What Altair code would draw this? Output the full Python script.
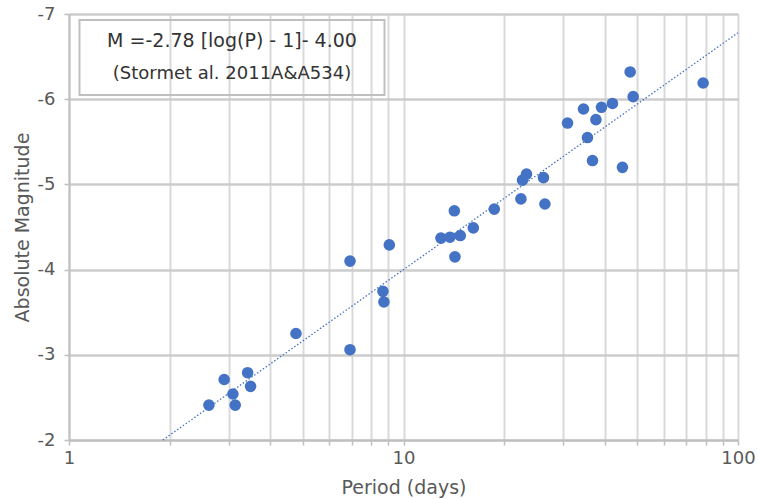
import math

import altair as alt
import pandas as pd

# Cepheid periods (days) and absolute magnitudes
periods = [2.62, 2.91, 3.09, 3.14, 3.42, 3.49, 4.77, 6.92, 6.92, 8.68,
           8.74, 9.07, 12.94, 13.77, 14.78, 16.17, 14.19, 14.25, 18.68, 22.44,
           22.69, 23.32, 26.21, 26.47, 30.93, 34.52, 35.48, 36.73, 37.6, 39.07,
           42.14, 45.14, 47.6, 48.6, 78.66]
magnitudes = [-2.41, -2.71, -2.54, -2.41, -2.79, -2.63, -3.25, -3.06, -4.10, -3.745,
              -3.62, -4.29, -4.37, -4.38, -4.40, -4.49, -4.69, -4.15, -4.71, -4.83,
              -5.05, -5.12, -5.08, -4.77, -5.72, -5.885, -5.55, -5.28, -5.76, -5.905,
              -5.95, -5.20, -6.32, -6.03, -6.19]

# Period-luminosity relation M = slope * (log P - 1) + zero_point
slope = -2.78
zero_point = -4.00
fit_periods = [10 ** (1 + (-2.0 - zero_point) / slope), 100.0]

x_ticks = [1, 2, 3, 4, 5, 6, 7, 8, 9, 10, 20, 30, 40, 50, 60, 70, 80, 90, 100]
y_ticks = [-7, -6, -5, -4, -3, -2]
formula_lines = ["M =-2.78 [log(P) - 1]- 4.00", "(Stormet al. 2011A&A534)"]

points = pd.DataFrame({"P": periods, "M": magnitudes})
fit = pd.DataFrame({"P": fit_periods,
                    "M": [slope * (math.log10(p) - 1) + zero_point for p in fit_periods]})

FONT = "DejaVu Sans"
GREY = "#595959"
BLUE = "#4472C4"

x_enc = alt.X(
    "P:Q",
    scale=alt.Scale(type="log", domain=[1, 100]),
    axis=alt.Axis(
        title="Period (days)",
        values=x_ticks,
        labelExpr="(datum.value == 1 || datum.value == 10 || datum.value == 100) ? toString(datum.value) : ''",
        labelFlush=False,
        labelOverlap=False,
        gridColor="#d9d9d9",
        gridWidth=2,
        domainColor="#bfbfbf",
        domainWidth=2,
        tickColor="#bfbfbf",
        tickWidth=1.5,
        tickSize=5,
        labelPadding=4,
        titleBaseline="middle",
        titleY=47,
    ),
)
y_enc = alt.Y(
    "M:Q",
    scale=alt.Scale(domain=[-7, -2], reverse=True, nice=False, zero=False),
    axis=alt.Axis(
        title="Absolute Magnitude",
        values=y_ticks,
        labelExpr="'-' + toString(abs(datum.value))",
        gridColor="#cccccc",
        gridWidth=2.5,
        domainColor="#bfbfbf",
        domainWidth=2,
        tickColor="#bfbfbf",
        tickWidth=1.5,
        tickSize=5,
        labelPadding=9,
        titleBaseline="middle",
        titleX=-47,
        titleY=213,
    ),
)

dots = alt.Chart(points).mark_circle(size=135, color=BLUE, opacity=1).encode(x=x_enc, y=y_enc)

trend = alt.Chart(fit).mark_line(color=BLUE, strokeWidth=1.3, strokeDash=[1.5, 2]).encode(
    x="P:Q", y="M:Q"
)

box = alt.Chart(pd.DataFrame({"k": [0]})).mark_rect(
    fill=None, stroke="#bfbfbf", strokeWidth=2
).encode(x=alt.value(10.5), x2=alt.value(315.5), y=alt.value(6), y2=alt.value(81))

label1 = alt.Chart(pd.DataFrame({"t": [formula_lines[0]]})).mark_text(
    font=FONT, fontSize=19, color="#333333", align="center", baseline="middle"
).encode(x=alt.value(163), y=alt.value(27), text="t:N")

label2 = alt.Chart(pd.DataFrame({"t": [formula_lines[1]]})).mark_text(
    font=FONT, fontSize=18, color="#333333", align="center", baseline="middle"
).encode(x=alt.value(163), y=alt.value(60), text="t:N")

chart = (
    alt.layer(trend, dots, box, label1, label2)
    .properties(
        width=669,
        height=426,
        autosize=alt.AutoSizeParams(type="none"),
        padding={"left": 69, "top": 14, "right": 20, "bottom": 59},
    )
    .configure_view(stroke=None)
    .configure_axis(
        labelFont=FONT,
        titleFont=FONT,
        labelFontSize=18,
        titleFontSize=19,
        labelColor=GREY,
        titleColor=GREY,
        titleFontWeight="normal",
    )
)

chart.save("out.html", embed_options={"renderer": "svg", "actions": False})
